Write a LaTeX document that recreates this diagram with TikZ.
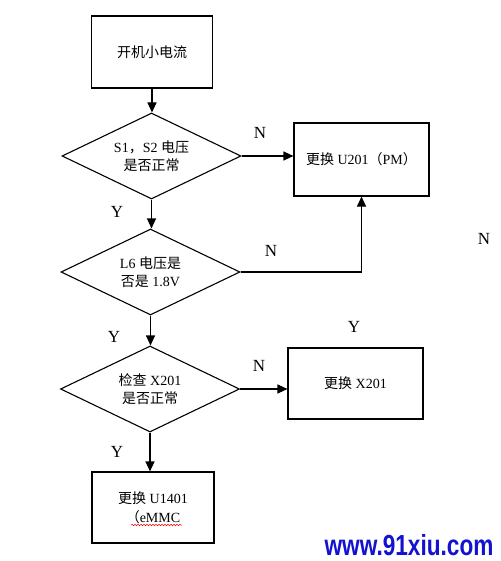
\documentclass[tikz,border=0pt]{standalone}
\usepackage{fontspec}
\setmainfont{Liberation Serif}
\newfontfamily\cjk{Noto Sans CJK SC}
\newfontfamily\wmfont{Liberation Sans}
\usetikzlibrary{arrows.meta,shapes.geometric,decorations.pathmorphing}
\definecolor{wmblue}{RGB}{18,18,208}

\tikzset{
	procbox/.style={draw, line width=1.1pt, inner sep=0pt, align=center, font=\fontsize{14}{19}\selectfont},
	decision/.style={diamond, draw, line width=1.1pt, aspect=2.05, inner sep=0pt, minimum width=179pt, minimum height=86pt, align=center, font=\fontsize{14}{18}\selectfont},
	flow/.style={line width=1.1pt, -{Triangle[length=10pt,width=9pt]}},
	yn/.style={font=\fontsize{17}{17}\selectfont}
}

\begin{document}
\begin{tikzpicture}[x=1pt, y=-1pt]
			%%%%% START %%%%%
			\useasboundingbox (0, 0) rectangle (500, 561);
			
			\node[procbox, minimum width=121pt, minimum height=72pt] (start) at (152, 52) {\cjk 开机小电流};
			\node[decision] (svolt) at (151.5, 156) {S1{\cjk ，}S2 {\cjk 电压}\\{\cjk 是否正常}};
			\node[procbox, minimum width=135pt, minimum height=73pt] (pm) at (361.5, 159.5) {{\cjk 更换} U201{\cjk （}PM{\cjk ）}};
			\node[decision] (lsix) at (150.5, 272) {L6 {\cjk 电压是}\\{\cjk 否是} 1.8V};
			\node[decision] (xtal) at (150, 389) {{\cjk 检查} X201\\{\cjk 是否正常}};
			\node[procbox, minimum width=135pt, minimum height=71pt] (newx) at (355.5, 383.5) {{\cjk 更换} X201};
			\node[procbox, minimum width=122pt, minimum height=71pt] (emmc) at (153, 507.5) {{\cjk 更换} U1401\\{\cjk （}eMMC};
			
			\draw[flow] (start.south) -- (start.south |- svolt.north);
			\draw[flow] (svolt.south) -- (svolt.south |- lsix.north);
			\draw[flow] (lsix.south) -- (lsix.south |- xtal.north);
			\draw[flow] (xtal.south) -- (xtal.south |- emmc.north);
			\draw[flow] (svolt.east) -- (svolt.east -| pm.west);
			\draw[flow] (lsix.east) -| (pm.south);
			\draw[flow] (xtal.east) -- (xtal.east -| newx.west);
			
			\node[yn] (nsv) at (260, 133) {N};
			\node[yn] (ysv) at (117, 212) {Y};
			\node[yn] (nls) at (271, 251) {N};
			\node[yn] (yls) at (114, 337) {Y};
			\node[yn] (nxt) at (259, 366) {N};
			\node[yn] (yxt) at (117, 452) {Y};
			\node[yn] (ystray) at (354, 327) {Y};
			\node[yn] (nstray) at (484, 239) {N};
			
			% spell-check mark under eMMC
			\draw[red, line width=0.5pt, decorate, decoration={snake, amplitude=0.8pt, segment length=3pt}] (131, 525) -- (182, 525);
			
			\node[text=wmblue, inner sep=0pt, font=\wmfont\bfseries\fontsize{29}{29}\selectfont] (mark) at (409, 545) {\scalebox{0.78}[1]{www.91xiu.com}};
			%%%%% END %%%%%
\end{tikzpicture}
\end{document}
